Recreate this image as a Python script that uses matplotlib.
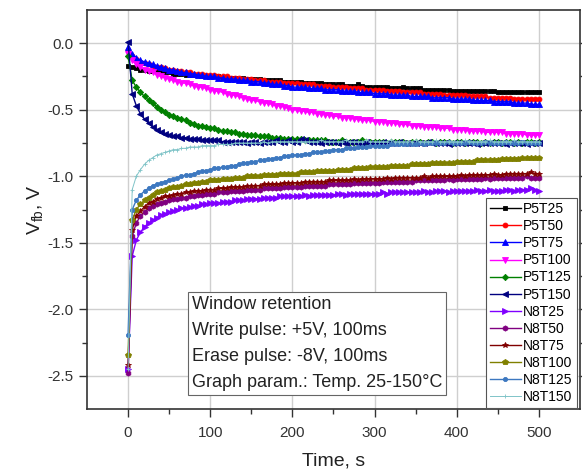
import numpy as np
import matplotlib
matplotlib.use("Agg")
import matplotlib.pyplot as plt

plt.rcParams['font.family'] = ['Liberation Sans', 'DejaVu Sans']
plt.rcParams['mathtext.default'] = 'regular'

# sampling time, s (one reading every 5 s)
time_s = np.arange(0, 505, 5)

# flat-band voltage, V, after the write pulse (P5) and erase pulse (N8)
P5T25 = [-0.17, -0.18, -0.19, -0.20, -0.20, -0.21, -0.21, -0.21, -0.22, -0.22, -0.22,
         -0.23, -0.23, -0.23, -0.24, -0.24, -0.24, -0.24, -0.25, -0.25, -0.25,
         -0.25, -0.25, -0.26, -0.26, -0.26, -0.26, -0.27, -0.26, -0.27, -0.27,
         -0.27, -0.27, -0.28, -0.28, -0.28, -0.28, -0.28, -0.29, -0.29, -0.29,
         -0.29, -0.29, -0.30, -0.30, -0.30, -0.30, -0.30, -0.31, -0.31, -0.31,
         -0.31, -0.31, -0.32, -0.32, -0.32, -0.31, -0.32, -0.33, -0.33, -0.33,
         -0.33, -0.33, -0.33, -0.34, -0.34, -0.34, -0.33, -0.34, -0.34, -0.34,
         -0.34, -0.35, -0.35, -0.35, -0.35, -0.35, -0.35, -0.35, -0.36, -0.36,
         -0.36, -0.36, -0.36, -0.36, -0.36, -0.36, -0.36, -0.36, -0.36, -0.37,
         -0.37, -0.37, -0.37, -0.37, -0.37, -0.37, -0.37, -0.37, -0.37, -0.37]
P5T50 = [-0.05, -0.10, -0.12, -0.14, -0.15, -0.16, -0.17, -0.18, -0.18, -0.19, -0.20,
         -0.20, -0.21, -0.21, -0.22, -0.22, -0.23, -0.23, -0.23, -0.24, -0.24,
         -0.24, -0.25, -0.25, -0.25, -0.26, -0.26, -0.26, -0.27, -0.27, -0.27,
         -0.28, -0.28, -0.28, -0.29, -0.29, -0.29, -0.29, -0.30, -0.30, -0.30,
         -0.30, -0.31, -0.31, -0.31, -0.31, -0.32, -0.32, -0.32, -0.32, -0.33,
         -0.33, -0.33, -0.33, -0.34, -0.34, -0.34, -0.34, -0.35, -0.35, -0.35,
         -0.35, -0.35, -0.36, -0.36, -0.36, -0.36, -0.37, -0.37, -0.37, -0.37,
         -0.37, -0.38, -0.38, -0.38, -0.38, -0.38, -0.39, -0.39, -0.39, -0.39,
         -0.39, -0.39, -0.40, -0.40, -0.40, -0.40, -0.40, -0.41, -0.41, -0.41,
         -0.41, -0.41, -0.41, -0.42, -0.42, -0.42, -0.42, -0.42, -0.42, -0.42]
P5T75 = [-0.03, -0.08, -0.11, -0.13, -0.14, -0.15, -0.16, -0.17, -0.18, -0.19, -0.20,
         -0.20, -0.21, -0.22, -0.22, -0.23, -0.23, -0.24, -0.24, -0.25, -0.25,
         -0.25, -0.26, -0.26, -0.27, -0.27, -0.27, -0.28, -0.28, -0.28, -0.29,
         -0.29, -0.29, -0.30, -0.30, -0.31, -0.31, -0.31, -0.32, -0.32, -0.33,
         -0.33, -0.33, -0.33, -0.34, -0.34, -0.34, -0.34, -0.35, -0.35, -0.35,
         -0.35, -0.36, -0.36, -0.36, -0.36, -0.37, -0.37, -0.37, -0.37, -0.38,
         -0.38, -0.38, -0.38, -0.39, -0.39, -0.39, -0.39, -0.39, -0.40, -0.40,
         -0.40, -0.40, -0.40, -0.41, -0.41, -0.41, -0.41, -0.41, -0.42, -0.42,
         -0.42, -0.42, -0.42, -0.43, -0.43, -0.43, -0.43, -0.43, -0.44, -0.44,
         -0.44, -0.44, -0.44, -0.45, -0.45, -0.45, -0.45, -0.46, -0.46, -0.46]
P5T100 = [-0.08, -0.13, -0.16, -0.18, -0.20, -0.21, -0.22, -0.24, -0.25, -0.26, -0.27,
          -0.28, -0.29, -0.30, -0.30, -0.31, -0.32, -0.33, -0.33, -0.34, -0.35,
          -0.36, -0.36, -0.37, -0.38, -0.39, -0.39, -0.40, -0.41, -0.42, -0.43,
          -0.43, -0.44, -0.45, -0.45, -0.46, -0.47, -0.47, -0.48, -0.49, -0.50,
          -0.50, -0.51, -0.51, -0.52, -0.52, -0.53, -0.53, -0.54, -0.54, -0.55,
          -0.55, -0.56, -0.56, -0.56, -0.57, -0.57, -0.58, -0.58, -0.58, -0.59,
          -0.59, -0.59, -0.60, -0.60, -0.60, -0.61, -0.61, -0.61, -0.62, -0.62,
          -0.62, -0.63, -0.63, -0.63, -0.63, -0.64, -0.64, -0.64, -0.65, -0.65,
          -0.65, -0.65, -0.66, -0.66, -0.66, -0.66, -0.67, -0.67, -0.67, -0.67,
          -0.67, -0.68, -0.68, -0.68, -0.68, -0.68, -0.69, -0.69, -0.69, -0.69]
P5T125 = [-0.10, -0.28, -0.33, -0.37, -0.40, -0.43, -0.45, -0.48, -0.50, -0.52, -0.54,
          -0.55, -0.56, -0.57, -0.58, -0.60, -0.61, -0.62, -0.62, -0.63, -0.64,
          -0.64, -0.65, -0.66, -0.66, -0.67, -0.67, -0.68, -0.68, -0.69, -0.69,
          -0.69, -0.70, -0.70, -0.70, -0.71, -0.71, -0.71, -0.72, -0.72, -0.72,
          -0.72, -0.72, -0.73, -0.73, -0.73, -0.73, -0.73, -0.73, -0.74, -0.74,
          -0.74, -0.73, -0.74, -0.74, -0.74, -0.74, -0.73, -0.74, -0.74, -0.74,
          -0.74, -0.74, -0.75, -0.74, -0.74, -0.74, -0.74, -0.75, -0.74, -0.74,
          -0.74, -0.75, -0.74, -0.74, -0.75, -0.74, -0.74, -0.74, -0.75, -0.74,
          -0.74, -0.75, -0.74, -0.74, -0.74, -0.75, -0.74, -0.75, -0.74, -0.74,
          -0.75, -0.74, -0.74, -0.75, -0.74, -0.75, -0.74, -0.74, -0.75, -0.74]
P5T150 = [0.01, -0.38, -0.47, -0.53, -0.57, -0.60, -0.63, -0.65, -0.67, -0.68, -0.69,
          -0.70, -0.70, -0.71, -0.71, -0.72, -0.72, -0.72, -0.73, -0.73, -0.73,
          -0.73, -0.73, -0.74, -0.74, -0.74, -0.74, -0.74, -0.74, -0.75, -0.74,
          -0.74, -0.75, -0.74, -0.74, -0.74, -0.73, -0.74, -0.74, -0.73, -0.74,
          -0.74, -0.72, -0.73, -0.74, -0.74, -0.74, -0.75, -0.74, -0.74, -0.74,
          -0.75, -0.74, -0.75, -0.74, -0.74, -0.75, -0.75, -0.74, -0.75, -0.75,
          -0.75, -0.74, -0.75, -0.75, -0.75, -0.74, -0.75, -0.75, -0.75, -0.75,
          -0.75, -0.75, -0.74, -0.75, -0.75, -0.75, -0.75, -0.76, -0.75, -0.75,
          -0.75, -0.75, -0.75, -0.75, -0.76, -0.75, -0.75, -0.75, -0.75, -0.75,
          -0.75, -0.76, -0.75, -0.75, -0.75, -0.75, -0.76, -0.75, -0.75, -0.75]
N8T25 = [-2.45, -1.60, -1.48, -1.42, -1.38, -1.35, -1.33, -1.31, -1.29, -1.28, -1.27,
         -1.26, -1.25, -1.24, -1.24, -1.23, -1.22, -1.22, -1.21, -1.21, -1.20,
         -1.20, -1.20, -1.19, -1.19, -1.19, -1.18, -1.18, -1.18, -1.17, -1.17,
         -1.17, -1.17, -1.16, -1.16, -1.16, -1.16, -1.15, -1.15, -1.15, -1.15,
         -1.15, -1.15, -1.14, -1.15, -1.14, -1.14, -1.14, -1.14, -1.14, -1.14,
         -1.13, -1.13, -1.14, -1.13, -1.13, -1.13, -1.13, -1.13, -1.13, -1.13,
         -1.13, -1.12, -1.13, -1.12, -1.12, -1.12, -1.12, -1.12, -1.12, -1.12,
         -1.12, -1.11, -1.12, -1.12, -1.11, -1.11, -1.11, -1.12, -1.11, -1.11,
         -1.11, -1.11, -1.11, -1.11, -1.10, -1.11, -1.11, -1.10, -1.11, -1.11,
         -1.11, -1.10, -1.10, -1.11, -1.10, -1.10, -1.10, -1.09, -1.10, -1.11]
N8T50 = [-2.48, -1.45, -1.35, -1.30, -1.27, -1.24, -1.22, -1.21, -1.20, -1.19, -1.18,
         -1.17, -1.17, -1.16, -1.16, -1.15, -1.15, -1.14, -1.14, -1.13, -1.13,
         -1.13, -1.12, -1.12, -1.12, -1.11, -1.11, -1.11, -1.11, -1.10, -1.10,
         -1.10, -1.10, -1.09, -1.09, -1.09, -1.09, -1.09, -1.08, -1.08, -1.08,
         -1.08, -1.08, -1.07, -1.07, -1.07, -1.07, -1.07, -1.07, -1.06, -1.06,
         -1.06, -1.06, -1.06, -1.06, -1.05, -1.05, -1.05, -1.05, -1.05, -1.05,
         -1.05, -1.04, -1.04, -1.04, -1.04, -1.04, -1.04, -1.04, -1.04, -1.03,
         -1.03, -1.03, -1.03, -1.03, -1.03, -1.03, -1.03, -1.02, -1.03, -1.02,
         -1.02, -1.02, -1.02, -1.02, -1.02, -1.02, -1.01, -1.02, -1.01, -1.01,
         -1.01, -1.01, -1.01, -1.01, -1.01, -1.01, -1.00, -1.01, -1.01, -1.01]
N8T75 = [-2.42, -1.40, -1.30, -1.26, -1.23, -1.20, -1.19, -1.17, -1.16, -1.15, -1.15,
         -1.14, -1.13, -1.13, -1.12, -1.12, -1.11, -1.11, -1.11, -1.10, -1.10,
         -1.10, -1.09, -1.09, -1.09, -1.08, -1.08, -1.08, -1.08, -1.07, -1.07,
         -1.07, -1.07, -1.06, -1.06, -1.06, -1.06, -1.06, -1.05, -1.05, -1.05,
         -1.05, -1.05, -1.04, -1.04, -1.04, -1.04, -1.04, -1.04, -1.03, -1.03,
         -1.03, -1.03, -1.03, -1.03, -1.02, -1.03, -1.02, -1.02, -1.02, -1.02,
         -1.02, -1.02, -1.01, -1.02, -1.01, -1.01, -1.01, -1.01, -1.01, -1.01,
         -1.01, -1.00, -1.01, -1.00, -1.00, -1.00, -1.00, -1.00, -1.00, -1.00,
         -0.99, -1.00, -0.99, -0.99, -0.99, -0.99, -0.99, -0.99, -0.98, -0.99,
         -0.99, -0.98, -0.98, -0.98, -0.98, -0.98, -0.98, -0.97, -0.98, -0.98]
N8T100 = [-2.34, -1.33, -1.25, -1.21, -1.18, -1.16, -1.14, -1.12, -1.11, -1.10, -1.09,
          -1.08, -1.08, -1.07, -1.06, -1.06, -1.05, -1.05, -1.04, -1.04, -1.03,
          -1.03, -1.03, -1.02, -1.02, -1.02, -1.01, -1.01, -1.01, -1.00, -1.00,
          -1.00, -1.00, -0.99, -0.99, -0.99, -0.99, -0.98, -0.98, -0.98, -0.98,
          -0.98, -0.97, -0.97, -0.97, -0.97, -0.96, -0.96, -0.96, -0.96, -0.96,
          -0.95, -0.95, -0.95, -0.95, -0.94, -0.94, -0.94, -0.94, -0.93, -0.93,
          -0.93, -0.93, -0.93, -0.92, -0.92, -0.92, -0.92, -0.92, -0.91, -0.91,
          -0.91, -0.91, -0.91, -0.90, -0.90, -0.90, -0.90, -0.90, -0.90, -0.89,
          -0.89, -0.89, -0.89, -0.89, -0.88, -0.88, -0.88, -0.88, -0.88, -0.88,
          -0.87, -0.87, -0.87, -0.87, -0.87, -0.86, -0.86, -0.86, -0.86, -0.86]
N8T125 = [-2.19, -1.25, -1.18, -1.14, -1.11, -1.09, -1.07, -1.06, -1.05, -1.04, -1.03,
          -1.02, -1.01, -1.00, -0.99, -0.99, -0.98, -0.97, -0.96, -0.96, -0.95,
          -0.94, -0.94, -0.93, -0.93, -0.92, -0.92, -0.91, -0.90, -0.90, -0.89,
          -0.89, -0.88, -0.88, -0.87, -0.87, -0.86, -0.86, -0.85, -0.85, -0.84,
          -0.84, -0.84, -0.83, -0.83, -0.82, -0.82, -0.82, -0.81, -0.81, -0.80,
          -0.80, -0.80, -0.79, -0.79, -0.79, -0.78, -0.78, -0.78, -0.77, -0.77,
          -0.77, -0.77, -0.77, -0.76, -0.76, -0.76, -0.76, -0.76, -0.76, -0.76,
          -0.75, -0.76, -0.75, -0.75, -0.75, -0.75, -0.75, -0.74, -0.75, -0.75,
          -0.75, -0.75, -0.74, -0.75, -0.75, -0.75, -0.74, -0.75, -0.75, -0.75,
          -0.75, -0.74, -0.75, -0.75, -0.75, -0.74, -0.75, -0.75, -0.75, -0.75]
N8T150 = [-2.45, -1.10, -1.00, -0.95, -0.91, -0.88, -0.86, -0.84, -0.83, -0.82, -0.81,
          -0.80, -0.80, -0.79, -0.79, -0.78, -0.78, -0.78, -0.77, -0.77, -0.77,
          -0.77, -0.76, -0.76, -0.76, -0.76, -0.75, -0.75, -0.75, -0.75, -0.75,
          -0.75, -0.75, -0.74, -0.75, -0.74, -0.74, -0.74, -0.74, -0.74, -0.74,
          -0.74, -0.74, -0.74, -0.74, -0.74, -0.74, -0.73, -0.74, -0.74, -0.74,
          -0.74, -0.74, -0.73, -0.74, -0.74, -0.74, -0.74, -0.73, -0.74, -0.74,
          -0.74, -0.74, -0.74, -0.73, -0.74, -0.74, -0.74, -0.74, -0.74, -0.73,
          -0.74, -0.74, -0.74, -0.74, -0.73, -0.74, -0.74, -0.74, -0.74, -0.74,
          -0.74, -0.73, -0.74, -0.74, -0.74, -0.74, -0.74, -0.73, -0.74, -0.74,
          -0.74, -0.74, -0.74, -0.73, -0.74, -0.74, -0.74, -0.74, -0.74, -0.74]

labels = ['P5T25', 'P5T50', 'P5T75', 'P5T100', 'P5T125', 'P5T150',
          'N8T25', 'N8T50', 'N8T75', 'N8T100', 'N8T125', 'N8T150']
series = [P5T25, P5T50, P5T75, P5T100, P5T125, P5T150,
          N8T25, N8T50, N8T75, N8T100, N8T125, N8T150]

colors = ['#000000', '#ff0000', '#0000ff', '#ff00ff', '#008000', '#000080',
          '#8000ff', '#800080', '#800000', '#808000', '#3d78c0', '#80c4c8']
markers = ['s', 'o', '^', 'v', 'D', '<', '>', 'h', '*', 'p', 'o', '+']
msizes = [3.5, 3.5, 3.8, 3.8, 3.2, 3.8, 3.8, 3.8, 4.2, 3.8, 3.0, 3.0]

fig = plt.figure(figsize=(5.82, 4.72), dpi=100)
ax = fig.add_axes([0.1495, 0.133, 0.847, 0.846])

for vals, lab, c, m, ms in zip(series, labels, colors, markers, msizes):
    lw = 0.7 if lab == 'N8T150' else 1.0
    ax.plot(time_s, vals, color=c, marker=m, markersize=ms, linewidth=lw,
            markeredgewidth=0.6, label=lab)

ax.set_xlim(-50, 550)
ax.set_ylim(-2.75, 0.25)
ax.set_xticks([0, 100, 200, 300, 400, 500])
ax.set_xticks([50, 150, 250, 350, 450], minor=True)
ax.set_yticks([-2.5, -2.0, -1.5, -1.0, -0.5, 0.0])
ax.set_yticks([-2.25, -1.75, -1.25, -0.75, -0.25], minor=True)
ax.yaxis.set_major_formatter(matplotlib.ticker.FormatStrFormatter('%.1f'))
ax.grid(True, which='major', color='#cfcfcf', linewidth=1.0)
ax.set_axisbelow(True)

for sp in ax.spines.values():
    sp.set_linewidth(1.2)
    sp.set_color('#333333')
ax.tick_params(which='both', direction='out', color='#333333', width=1.0,
               labelsize=11, labelcolor='#333333')
ax.tick_params(axis='x', pad=6)
ax.tick_params(which='major', length=6)
ax.tick_params(which='minor', length=3.5)
ax.tick_params(which='both', right=True)

ax.set_xlabel('Time, s', fontsize=14, color='#222222', labelpad=9)
ax.set_ylabel('V$_{fb}$, V', fontsize=14, color='#222222', labelpad=2)

leg = ax.legend(loc='lower right', bbox_to_anchor=(0.994, 0.003),
                borderaxespad=0, fontsize=10, frameon=True, fancybox=False,
                framealpha=1, edgecolor='#555555', labelspacing=0.22,
                handlelength=2.2, handletextpad=0.2, borderpad=0.3)
leg.get_frame().set_linewidth(0.8)

info = ('Window retention\n'
        'Write pulse: +5V, 100ms\n'
        'Erase pulse: -8V, 100ms\n'
        'Graph param.: Temp. 25-150°C')
ax.text(0.213, 0.045, info, transform=ax.transAxes, fontsize=13,
        color='#222222', ha='left', va='bottom', linespacing=1.7,
        bbox=dict(boxstyle='square,pad=0.2', facecolor='white',
                  edgecolor='#666666', linewidth=0.8))

fig.savefig('out.png', dpi=100)
